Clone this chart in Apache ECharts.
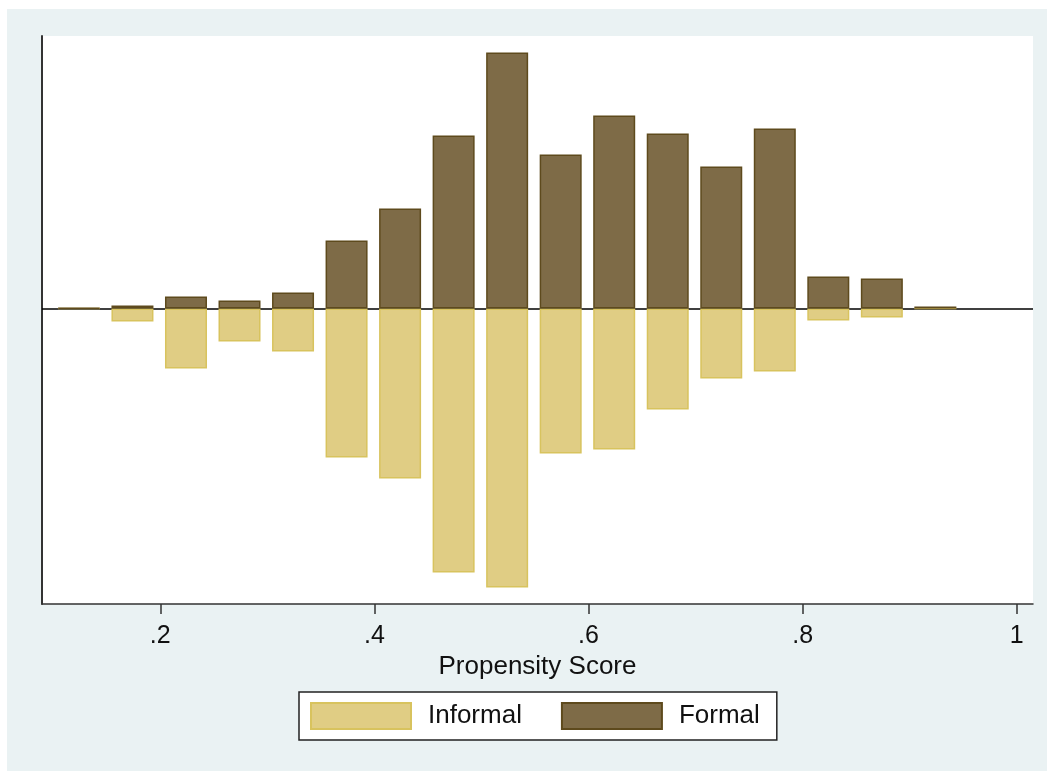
<!DOCTYPE html>
<html>
<head>
<meta charset="utf-8">
<script src="https://cdn.jsdelivr.net/npm/echarts@6/dist/echarts.min.js"></script>
<style>
  html, body { margin: 0; padding: 0; background: #ffffff; width: 1047px; height: 771px; overflow: hidden; }
  #bg { position: absolute; left: 7px; top: 9px; right: 0; bottom: 0; background: #EAF2F3; }
  #chart { position: absolute; left: 0; top: 0; width: 1047px; height: 771px; }
</style>
</head>
<body>
<div id="bg"></div>
<div id="chart"></div>
<script>
// Bin centers of propensity score
const binCenters = [0.124, 0.174, 0.224, 0.274, 0.324, 0.374, 0.424, 0.474, 0.524, 0.574, 0.624, 0.674, 0.724, 0.774, 0.824, 0.874, 0.924];
// Formal (treated) density, drawn upward
const formalValues = [0.005, 0.03, 0.12, 0.08, 0.16, 0.68, 1.00, 1.73, 2.56, 1.54, 1.93, 1.75, 1.42, 1.80, 0.32, 0.30, 0.02];
// Informal (untreated) density, drawn downward
const informalValues = [0, -0.13, -0.60, -0.33, -0.43, -1.49, -1.70, -2.64, -2.79, -1.45, -1.41, -1.01, -0.70, -0.63, -0.12, -0.09, 0];
// X tick values and labels
const xTicks = [0.2, 0.4, 0.6, 0.8, 1];
const xTickLabels = ['.2', '.4', '.6', '.8', '1'];
const seriesNames = ['Informal', 'Formal'];
const xTitle = 'Propensity Score';

const chart = echarts.init(document.getElementById('chart'), null, { renderer: 'canvas' });

const informalData = binCenters.map((x, i) => [x, informalValues[i]]);
const formalData = binCenters.map((x, i) => [x, formalValues[i]]);

const option = {
  backgroundColor: 'transparent',
  animation: false,
  grid: {
    left: 42, top: 36, right: 14, bottom: 167,
    show: true, backgroundColor: '#ffffff', borderWidth: 0
  },
  legend: {
    data: seriesNames,
    left: 299, top: 692,
    orient: 'horizontal',
    backgroundColor: '#ffffff',
    borderColor: '#222222',
    borderWidth: 1.5,
    borderRadius: 0,
    padding: [10, 17, 10, 11],
    itemWidth: 100,
    itemHeight: 26,
    itemGap: 39,
    icon: 'rect',
    textStyle: { fontFamily: 'Liberation Sans, Arial, sans-serif', fontSize: 26, color: '#111', padding: [0, 0, 0, 12] }
  },
  xAxis: {
    type: 'value',
    min: 0.0895, max: 1.0152,
    name: xTitle,
    nameLocation: 'middle',
    nameGap: 46,
    nameTextStyle: { fontFamily: 'Liberation Sans, Arial, sans-serif', fontSize: 26, color: '#111' },
    axisLine: { show: true, onZero: false, lineStyle: { color: '#333', width: 1.5 } },
    axisTick: { show: true, customValues: xTicks, length: 10, lineStyle: { color: '#333', width: 1.5 } },
    axisLabel: {
      show: true, customValues: xTicks, margin: 20,
      fontFamily: 'Liberation Sans, Arial, sans-serif', fontSize: 25, color: '#111',
      formatter: v => { const i = xTicks.findIndex(t => Math.abs(t - v) < 1e-6); return i >= 0 ? xTickLabels[i] : ''; }
    },
    splitLine: { show: false }
  },
  yAxis: {
    type: 'value',
    min: -2.955, max: 2.725,
    axisLine: { show: true, onZero: false, lineStyle: { color: '#333', width: 2 } },
    axisTick: { show: false },
    axisLabel: { show: false },
    splitLine: { show: false }
  },
  series: [
    {
      name: seriesNames[0],
      type: 'bar',
      data: informalData,
      barWidth: 42,
      barGap: '-100%',
      itemStyle: { color: '#E0CD84', borderColor: '#D8C35E', borderWidth: 1.5 },
      z: 2
    },
    {
      name: seriesNames[1],
      type: 'bar',
      data: formalData,
      barWidth: 42,
      barGap: '-100%',
      itemStyle: { color: '#7E6B47', borderColor: '#5E4A1D', borderWidth: 1.5 },
      z: 3,
      markLine: {
        silent: true, symbol: 'none', label: { show: false },
        lineStyle: { color: '#000', width: 1.5, type: 'solid' },
        data: [{ yAxis: 0 }],
        z: 1
      }
    }
  ]
};
chart.setOption(option);
</script>
</body>
</html>
